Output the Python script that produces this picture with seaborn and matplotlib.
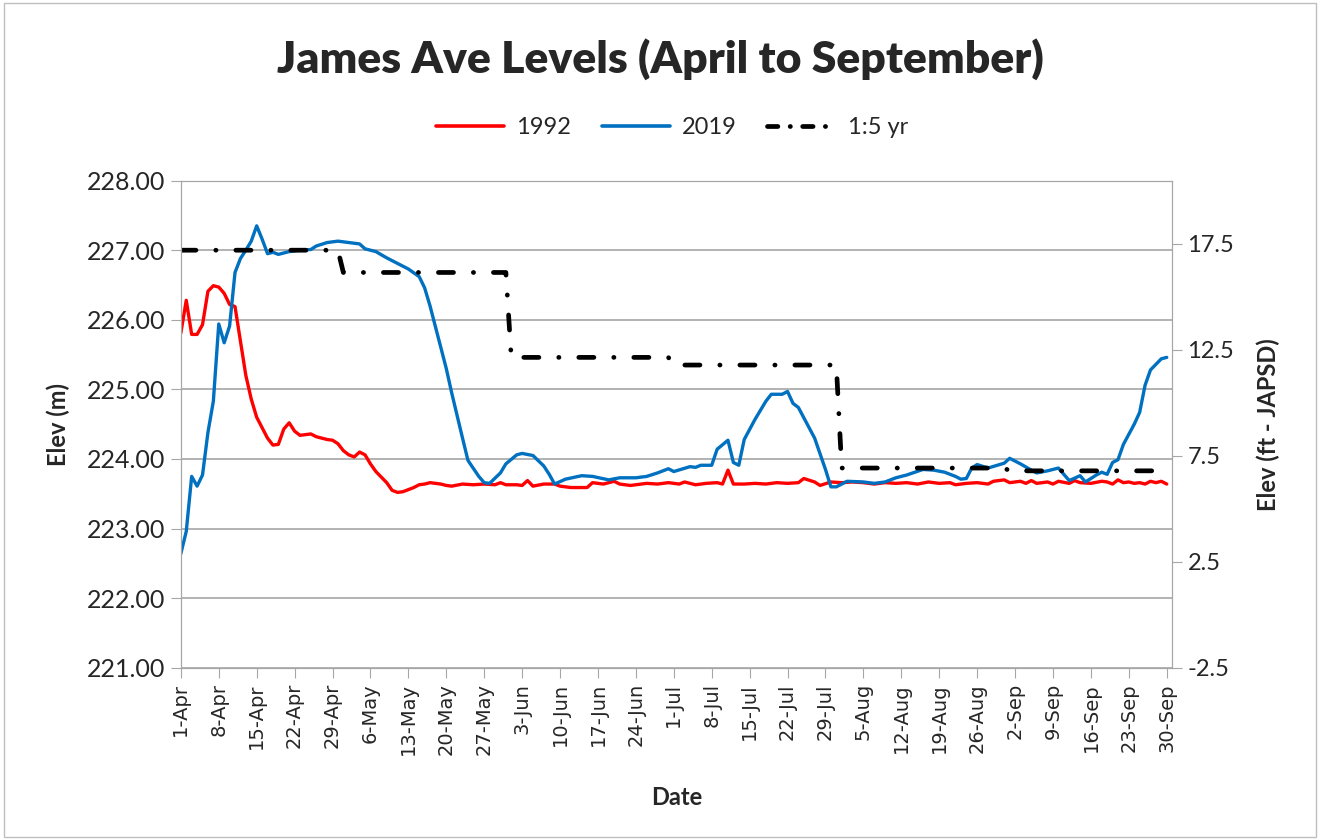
import matplotlib
matplotlib.use("Agg")
import matplotlib.pyplot as plt
import seaborn as sns
import pandas as pd
from matplotlib.lines import Line2D
from matplotlib.patches import Rectangle

# days counted from 1-Apr
red_day = [0, 1, 2, 3, 4, 5, 6, 7, 8, 9, 10, 11, 12, 13, 14, 15, 16, 17, 18, 19,
           20, 21, 22, 23, 24, 25, 26, 27, 28, 29, 30, 31, 32, 33, 34, 35, 36, 37, 38, 39,
           40, 41, 42, 43, 44, 45, 46, 47, 48, 49, 50, 52, 54, 56, 58, 59, 60, 62, 63, 64,
           65, 67, 69, 70, 72, 75, 76, 78, 80, 81, 83, 84, 86, 88, 90, 92, 93, 95, 97, 99,
           100, 101, 102, 104, 106, 108, 110, 112, 114, 115, 117, 118, 120, 122, 124, 126, 128, 130, 132, 134,
           136, 138, 140, 142, 143, 145, 147, 149, 150, 152, 153, 155, 156, 157, 158, 160, 161, 162, 164, 165,
           166, 168, 170, 171, 172, 173, 174, 175, 176, 177, 178, 179, 180, 181, 182]
red_elev = [225.81, 226.28, 225.79, 225.79, 225.93, 226.41, 226.49, 226.47, 226.38, 226.22,
            226.19, 225.70, 225.20, 224.86, 224.60, 224.45, 224.30, 224.20, 224.21, 224.43,
            224.52, 224.40, 224.34, 224.35, 224.36, 224.32, 224.30, 224.28, 224.27, 224.22,
            224.12, 224.06, 224.03, 224.10, 224.06, 223.93, 223.82, 223.74, 223.66, 223.55,
            223.52, 223.53, 223.56, 223.59, 223.63, 223.64, 223.66, 223.65, 223.64, 223.62,
            223.61, 223.64, 223.63, 223.64, 223.63, 223.66, 223.63, 223.63, 223.62, 223.69,
            223.61, 223.64, 223.64, 223.61, 223.59, 223.59, 223.66, 223.64, 223.68, 223.64,
            223.62, 223.63, 223.65, 223.64, 223.66, 223.64, 223.67, 223.63, 223.65, 223.66,
            223.64, 223.84, 223.64, 223.64, 223.65, 223.64, 223.66, 223.65, 223.66, 223.72,
            223.67, 223.62, 223.67, 223.66, 223.67, 223.66, 223.64, 223.66, 223.65, 223.66,
            223.64, 223.67, 223.65, 223.66, 223.63, 223.65, 223.66, 223.64, 223.68, 223.70,
            223.66, 223.68, 223.65, 223.69, 223.65, 223.67, 223.64, 223.68, 223.65, 223.69,
            223.66, 223.65, 223.68, 223.67, 223.64, 223.70, 223.66, 223.67, 223.65, 223.66,
            223.64, 223.68, 223.66, 223.68, 223.64]

blue_day = [0, 1, 2, 3, 4, 5, 6, 7, 8, 9, 10, 11, 12, 13, 14, 15, 16, 17, 18, 20,
            22, 24, 25, 27, 29, 31, 33, 34, 36, 38, 40, 42, 44, 45, 46, 48, 49, 50, 52, 53,
            55, 56, 57, 59, 60, 62, 63, 65, 67, 68, 69, 71, 74, 76, 79, 81, 84, 86, 88, 90,
            91, 94, 95, 96, 98, 99, 101, 102, 103, 104, 106, 108, 109, 111, 112, 113, 114, 117, 119, 120,
            121, 123, 126, 128, 130, 132, 134, 137, 139, 141, 143, 144, 145, 146, 147, 149, 152, 153, 155, 157,
            158, 160, 162, 164, 166, 167, 169, 170, 171, 172, 173, 174, 176, 177, 178, 179, 180, 181, 182]
blue_elev = [222.64, 222.96, 223.75, 223.61, 223.77, 224.38, 224.83, 225.94, 225.67, 225.91,
             226.68, 226.88, 227.00, 227.13, 227.35, 227.16, 226.95, 226.97, 226.94, 226.98,
             227.00, 227.01, 227.06, 227.11, 227.13, 227.11, 227.09, 227.02, 226.98, 226.89,
             226.81, 226.73, 226.62, 226.46, 226.20, 225.60, 225.30, 224.95, 224.30, 223.98,
             223.75, 223.66, 223.65, 223.80, 223.93, 224.06, 224.08, 224.05, 223.90, 223.78,
             223.64, 223.71, 223.76, 223.75, 223.70, 223.73, 223.73, 223.75, 223.80, 223.86,
             223.82, 223.89, 223.88, 223.91, 223.91, 224.14, 224.27, 223.95, 223.91, 224.28,
             224.57, 224.83, 224.93, 224.93, 224.97, 224.80, 224.74, 224.30, 223.85, 223.60,
             223.60, 223.68, 223.67, 223.65, 223.67, 223.73, 223.77, 223.85, 223.84, 223.81,
             223.75, 223.71, 223.72, 223.87, 223.92, 223.87, 223.94, 224.01, 223.93, 223.84,
             223.80, 223.83, 223.87, 223.69, 223.76, 223.67, 223.77, 223.81, 223.78, 223.95,
             223.99, 224.21, 224.50, 224.67, 225.06, 225.28, 225.36, 225.44, 225.46]

# 1:5 yr monthly levels
yr5_day = [0, 29, 30, 60, 61, 90, 91, 121, 122, 152, 153, 180]
yr5_elev = [227.00, 227.00, 226.68, 226.68, 225.46, 225.46, 225.35, 225.35, 223.87, 223.87, 223.83, 223.83]

tick_day = list(range(0, 183, 7))
tick_labels = ["1-Apr", "8-Apr", "15-Apr", "22-Apr", "29-Apr", "6-May", "13-May", "20-May",
               "27-May", "3-Jun", "10-Jun", "17-Jun", "24-Jun", "1-Jul", "8-Jul", "15-Jul",
               "22-Jul", "29-Jul", "5-Aug", "12-Aug", "19-Aug", "26-Aug", "2-Sep", "9-Sep",
               "16-Sep", "23-Sep", "30-Sep"]

df = pd.concat([
    pd.DataFrame({"day": red_day, "elev": red_elev, "series": "1992"}),
    pd.DataFrame({"day": blue_day, "elev": blue_elev, "series": "2019"}),
    pd.DataFrame({"day": yr5_day, "elev": yr5_elev, "series": "1:5 yr"}),
])

sns.set_style("white")
plt.rcParams["font.family"] = ["Lato", "DejaVu Sans"]

colors = {"1992": "#FF0000", "2019": "#0070C0", "1:5 yr": "#000000"}
dashstyle = (0, (3.2, 4.2, 0.05, 4.2))

fig = plt.figure(figsize=(13.2, 8.4), dpi=100)
ax = fig.add_axes([0.137, 0.205, 0.751, 0.58])

for name in ["1992", "2019"]:
    sns.lineplot(data=df[df.series == name], x="day", y="elev", color=colors[name],
                 lw=2.4, estimator=None, sort=True, ax=ax, legend=False)
sns.lineplot(data=df[df.series == "1:5 yr"], x="day", y="elev", color="black",
             lw=3.4, estimator=None, sort=True, ax=ax, legend=False,
             linestyle=dashstyle, dash_capstyle="round")

ax.set_xlim(0, 183)
ax.set_ylim(221, 228)
ax.set_yticks(range(221, 229))
ax.set_yticklabels([f"{v:.2f}" for v in range(221, 229)], fontsize=18)
ax.set_xticks(tick_day)
ax.set_xticklabels(tick_labels, rotation=90, fontsize=14, family="DejaVu Sans")
ax.grid(axis="y", color="#A6A6A6", lw=1.2)
ax.set_axisbelow(True)
for s in ax.spines.values():
    s.set_color("#A6A6A6")
ax.tick_params(axis="both", which="both", direction="out", length=7, color="#A6A6A6",
               left=True, bottom=True, pad=4)
ax.set_xlabel("Date", fontsize=17, fontweight="bold", labelpad=22)
ax.set_ylabel("Elev (m)", fontsize=17, fontweight="bold", labelpad=12)

ax2 = ax.twinx()
ax2.set_ylim(-2.5, -2.5 + 7 * 3.28084)
ax2.set_yticks([-2.5, 2.5, 7.5, 12.5, 17.5])
ax2.set_yticklabels(["-2.5", "2.5", "7.5", "12.5", "17.5"], fontsize=17)
ax2.tick_params(axis="y", direction="out", length=7, color="#A6A6A6", right=True, pad=4)
for s in ax2.spines.values():
    s.set_color("#A6A6A6")
ax2.set_ylabel("Elev (ft - JAPSD)", fontsize=17, fontweight="bold", labelpad=16)

fig.suptitle("James Ave Levels (April to September)", fontsize=32, fontweight="heavy",
             y=0.955)

handles = [Line2D([], [], color=colors["1992"], lw=2.6),
           Line2D([], [], color=colors["2019"], lw=2.6),
           Line2D([], [], color="black", lw=3.4, linestyle=(0, (2.2, 2.6, 0.05, 2.6)),
                  dash_capstyle="round")]
fig.legend(handles, ["1992", "2019", "1:5 yr"], loc="center", bbox_to_anchor=(0.509, 0.848),
           ncol=3, frameon=False, fontsize=17, handlelength=2.9, columnspacing=1.3,
           handletextpad=0.5)

fig.patches.append(Rectangle((0.003, 0.003), 0.994, 0.994, transform=fig.transFigure,
                             fill=False, edgecolor="#BFBFBF", lw=1))

fig.savefig("out.png", dpi=100)
